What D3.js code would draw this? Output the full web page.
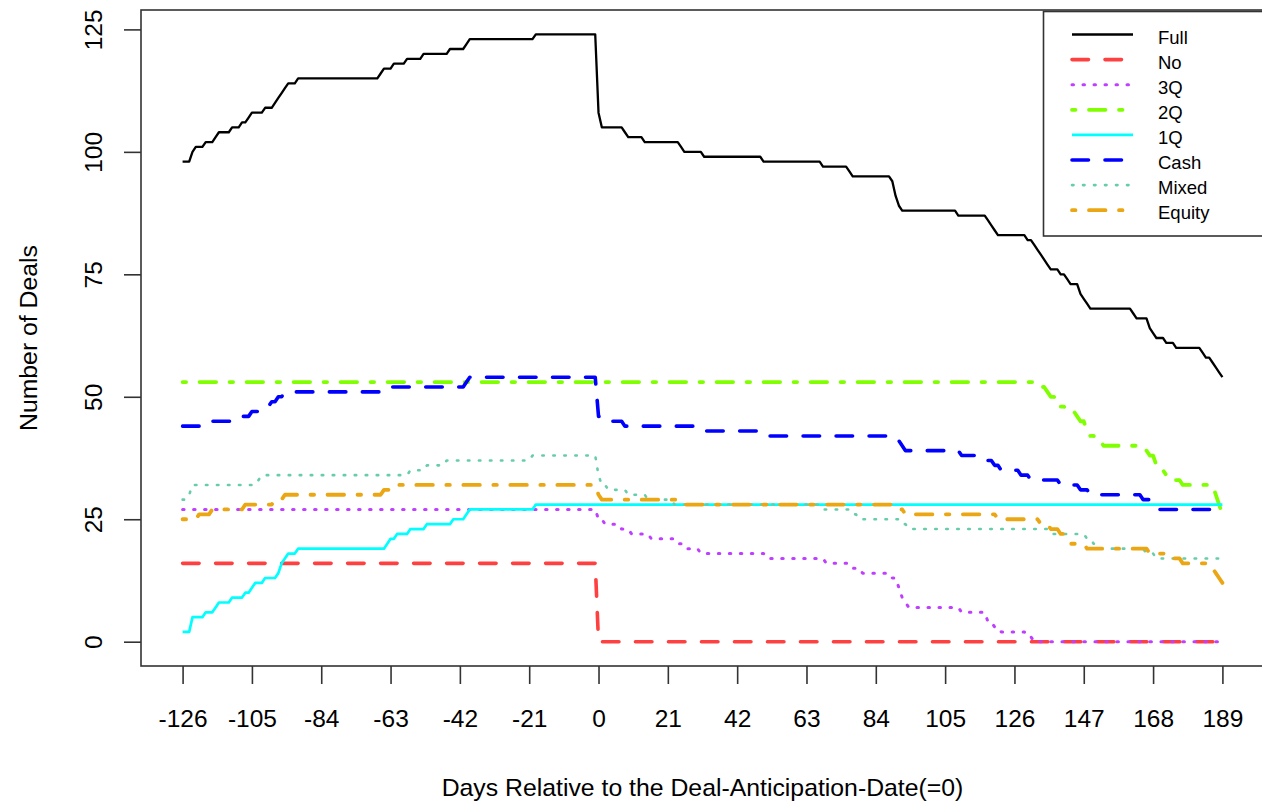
<!DOCTYPE html>
<html>
<head>
<meta charset="utf-8">
<script src="https://cdn.jsdelivr.net/npm/d3@7"></script>
<style>
html, body { margin: 0; padding: 0; background: #ffffff; }
svg { display: block; font-family: "Liberation Sans", Arial, sans-serif; }
</style>
</head>
<body>
<svg id="chart" width="1262" height="802"></svg>
<script>
// ---------------- DATA (step change points: [day, number of deals from that day on]) ----------------
const seriesNames = ["Full", "No", "3Q", "2Q", "1Q", "Cash", "Mixed", "Equity"];

const fullSteps = [[-126,98],[-123,100],[-122,101],[-119,102],[-116,103],[-115,104],[-111,105],[-108,106],
  [-106,107],[-105,108],[-101,109],[-98,110],[-97,111],[-96,112],[-95,113],[-94,114],[-91,115],[-66,116],
  [-65,117],[-62,118],[-58,119],[-53,120],[-45,121],[-40,122],[-39,123],[-19,124],[0,108],[1,105],[8,104],
  [9,103],[14,102],[25,101],[26,100],[32,99],[50,98],[68,97],[76,96],[77,95],[89,94],[90,91],[91,89],[92,88],
  [109,87],[118,86],[119,85],[120,84],[121,83],[130,82],[132,81],[133,80],[134,79],[135,78],[136,77],[137,76],
  [140,75],[142,74],[143,73],[146,71],[147,70],[148,69],[149,68],[162,67],[163,66],[167,64],[168,63],[169,62],
  [172,61],[175,60],[183,59],[184,58],[186,57],[187,56],[188,55],[189,54]];

const noSteps = [[-126,16],[0,0]];

const q3Steps = [[-126,27],[0,25],[2,24],[7,23],[10,22],[16,21],[24,20],[27,19],[31,18],[51,17],[69,16],
  [77,15],[80,14],[89,13],[91,11],[92,9],[93,8],[94,7],[110,6],[118,4],[120,3],[122,2],[130,1],[132,0]];

const q2Steps = [[-126,53],[133,52],[136,51],[137,50],[139,48],[142,47],[145,46],[146,45],[148,43],[149,42],
  [151,41],[153,40],[166,39],[167,38],[169,36],[170,35],[172,34],[174,33],[177,32],[187,30],[188,28],[189,26]];

const q1Steps = [[-126,2],[-123,5],[-119,6],[-116,7],[-115,8],[-111,9],[-107,10],[-105,11],[-104,12],
  [-101,13],[-97,14],[-96,16],[-95,17],[-94,18],[-91,19],[-64,20],[-63,21],[-61,22],[-57,23],[-52,24],
  [-44,25],[-40,26],[-39,27],[-19,28]];

const cashSteps = [[-126,44],[-119,45],[-110,46],[-105,47],[-101,48],[-99,49],[-97,50],[-95,51],[-64,52],
  [-40,53],[-39,54],[0,46],[2,45],[8,44],[30,43],[50,42],[91,41],[92,40],[93,39],[110,38],[118,37],[120,36],
  [122,35],[128,34],[131,33],[140,32],[146,31],[149,30],[165,29],[168,28],[170,27]];

const mixedSteps = [[-126,29],[-124,30],[-123,32],[-103,33],[-102,34],[-57,35],[-52,36],[-46,37],[-20,38],
  [0,34],[1,32],[3,31],[9,30],[15,29],[23,28],[68,27],[77,26],[79,25],[92,24],[94,23],[137,22],[148,21],
  [150,20],[152,19],[166,18],[169,17]];

const equitySteps = [[-126,25],[-121,26],[-117,27],[-107,28],[-98,29],[-95,30],[-65,31],[-62,32],[0,30],
  [1,29],[26,28],[91,27],[93,26],[121,25],[134,24],[137,23],[140,22],[142,21],[143,20],[148,19],[167,18],
  [173,17],[177,16],[186,15],[187,14],[188,13],[189,12]];

const xTickValues = [-126, -105, -84, -63, -42, -21, 0, 21, 42, 63, 84, 105, 126, 147, 168, 189];
const yTickValues = [0, 25, 50, 75, 100, 125];
const dayFirst = -126, dayLast = 189;
const xTitle = "Days Relative to the Deal-Anticipation-Date(=0)";
const yTitle = "Number of Deals";

// ---------------- STYLES ----------------
const seriesColors = ["#000000", "#FF4040", "#BF3EFF", "#7FFF00", "#00FFFF", "#0000FF", "#66CDAA", "#EBA613"];
const seriesWidths = [2.3, 3.6, 3.0, 3.8, 2.7, 3.6, 2.6, 3.8];
const seriesDash = [null, "16.5,16.5", "1.5,9.5", "3.5,13.5,16.5,13.5", null, "16.5,16.5", "1.5,9.5", "3.5,13.5,16.5,13.5"];
const allSteps = [fullSteps, noSteps, q3Steps, q2Steps, q1Steps, cashSteps, mixedSteps, equitySteps];

// ---------------- LAYOUT ----------------
const svg = d3.select("#chart");
const plotLeft = 141, plotRight = 1264, plotTop = 10, plotBottom = 666;

const xPad = 0.04 * (dayLast - dayFirst);
const yMax = d3.max(allSteps, s => d3.max(s, d => d[1]));
const yPad = 0.04 * yMax;
const x = d3.scaleLinear().domain([dayFirst - xPad, dayLast + xPad]).range([plotLeft, plotRight]);
const y = d3.scaleLinear().domain([-yPad, yMax + yPad]).range([plotBottom, plotTop]);

// turn change points into a daily polyline (one-day transitions like an R type="l" plot)
function toPath(steps) {
  const pts = [[steps[0][0], steps[0][1]]];
  for (let i = 1; i < steps.length; i++) {
    const prevDay = steps[i][0] - 1;
    if (prevDay > pts[pts.length - 1][0]) pts.push([prevDay, steps[i - 1][1]]);
    pts.push([steps[i][0], steps[i][1]]);
  }
  const last = pts[pts.length - 1];
  if (last[0] < dayLast) pts.push([dayLast, last[1]]);
  return pts;
}

const line = d3.line().x(d => x(d[0])).y(d => y(d[1]));

svg.append("clipPath").attr("id", "plotclip")
  .append("rect").attr("x", plotLeft).attr("y", plotTop)
  .attr("width", plotRight - plotLeft).attr("height", plotBottom - plotTop);

const linesG = svg.append("g").attr("clip-path", "url(#plotclip)");
allSteps.forEach((steps, i) => {
  linesG.append("path")
    .attr("d", line(toPath(steps)))
    .attr("fill", "none")
    .attr("stroke", seriesColors[i])
    .attr("stroke-width", seriesWidths[i])
    .attr("stroke-linecap", seriesDash[i] ? "round" : "butt")
    .attr("stroke-linejoin", "round")
    .attr("stroke-dasharray", seriesDash[i]);
});

// box
svg.append("rect")
  .attr("x", plotLeft).attr("y", plotTop)
  .attr("width", plotRight - plotLeft).attr("height", plotBottom - plotTop)
  .attr("fill", "none").attr("stroke", "#333").attr("stroke-width", 1.6);

const plainNumber = d => String(d);

// x axis
const xAxis = svg.append("g").attr("transform", `translate(0,${plotBottom})`)
  .call(d3.axisBottom(x).tickValues(xTickValues).tickSize(18).tickPadding(26).tickFormat(plainNumber));
xAxis.select(".domain").remove();
xAxis.selectAll(".tick line").attr("stroke", "#333").attr("stroke-width", 1.6);
xAxis.selectAll(".tick text").attr("font-size", 24.5).attr("fill", "#000")
  .attr("font-family", '"Liberation Sans", Arial, sans-serif');

// y axis
const yAxis = svg.append("g").attr("transform", `translate(${plotLeft},0)`)
  .call(d3.axisLeft(y).tickValues(yTickValues).tickSize(17).tickFormat(plainNumber));
yAxis.select(".domain").remove();
yAxis.selectAll(".tick line").attr("stroke", "#333").attr("stroke-width", 1.6);
yAxis.selectAll(".tick text")
  .attr("x", null).attr("dy", null)
  .attr("text-anchor", "middle")
  .attr("transform", "translate(-39,0) rotate(-90)")
  .attr("font-size", 24.5).attr("fill", "#000")
  .attr("font-family", '"Liberation Sans", Arial, sans-serif');

// axis titles
svg.append("text")
  .attr("x", (plotLeft + plotRight) / 2).attr("y", 796)
  .attr("text-anchor", "middle").attr("font-size", 24.8).attr("fill", "#000")
  .text(xTitle);
svg.append("text")
  .attr("transform", `translate(37,${(plotTop + plotBottom) / 2}) rotate(-90)`)
  .attr("text-anchor", "middle").attr("font-size", 24.8).attr("fill", "#000")
  .text(yTitle);

// legend
const legX = 1043.5, legY = 11.5, legW = 240, legH = 224.5;
const legend = svg.append("g");
legend.append("rect").attr("x", legX).attr("y", legY).attr("width", legW).attr("height", legH)
  .attr("fill", "#fff").attr("stroke", "#333").attr("stroke-width", 1.6);
seriesNames.forEach((name, i) => {
  const ly = 34.5 + i * 25.1;
  legend.append("line")
    .attr("x1", 1072).attr("x2", 1133).attr("y1", ly).attr("y2", ly)
    .attr("stroke", seriesColors[i]).attr("stroke-width", seriesWidths[i])
    .attr("stroke-linecap", seriesDash[i] ? "round" : "butt")
    .attr("stroke-dasharray", seriesDash[i]);
  legend.append("text")
    .attr("x", 1158).attr("y", ly + 9)
    .attr("font-size", 18.5).attr("fill", "#000")
    .text(name);
});
</script>
</body>
</html>
